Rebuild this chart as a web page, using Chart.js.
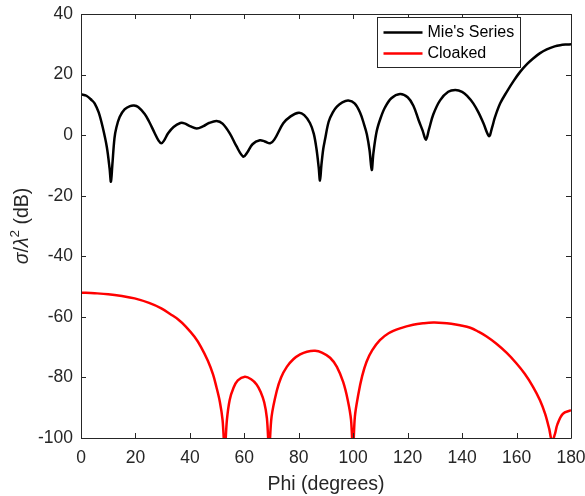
<!DOCTYPE html>
<html>
<head>
<meta charset="utf-8">
<script src="https://cdn.jsdelivr.net/npm/chart.js@4"></script>
<style>
  html, body { margin: 0; padding: 0; background: #fff; }
  #wrap { width: 585px; height: 496px; }
</style>
</head>
<body>
<div id="wrap"><canvas id="c" width="585" height="496"></canvas></div>
<script>
// ---- data ----
const seriesLabels = ["Mie's Series", "Cloaked"];

const phiMie = [0, 2, 4, 5, 6.5, 8, 9.5, 10.5, 11, 11.5, 12.3, 13, 14.2, 16, 18, 19.5, 21, 23.4, 25, 27,
  28.5, 29.5, 30.5, 32, 34, 36.5, 38, 40, 42.5, 45, 47, 49.8, 52, 54.7, 57, 59.6, 61, 63, 65.7, 67.5,
  69.5, 71, 74.3, 77, 80, 82, 84.1, 85.5, 86.5, 87.3, 87.8, 88.3, 89, 89.6, 91, 92.5, 94, 96, 98.2, 100.5,
  102.5, 104, 105, 106, 106.8, 107.4, 108.6, 110, 111.7, 114, 117.2, 120, 122.1, 124, 125.5, 126.7, 127.8,
  129.4, 131.9, 134.9, 137.5, 140, 142, 144.1, 146, 147.8, 149.9, 151, 152.1, 154, 156.4, 159, 161.3,
  164, 166.2, 168.5, 171.1, 174, 176, 178, 180];
const mieSeries = [13.5, 13.0, 11.5, 10.5, 7.5, 2.5, -4, -11, -15.4, -10, -1, 2.5, 6, 8.5, 9.6, 9.8, 9.3, 7, 4.5, 0.8,
  -1.8, -2.7, -1.8, 0.6, 2.7, 4.0, 3.9, 3.0, 2.2, 3.0, 4.0, 4.7, 3.8, 0.5, -3.5, -7.1, -5.8, -3.0, -1.7, -2.1,
  -2.7, -1.5, 3.9, 6.2, 7.4, 6.6, 4.0, 0.5, -4.5, -10.5, -15, -10, -4.5, -1.6, 4.5, 7.5, 9.4, 10.8, 11.4, 10.5,
  7.5, 3.5, 0.3, -5, -11.5, -6, 1.2, 5.5, 9.2, 12.2, 13.6, 12.5, 9.7, 5, 1.5, -1.5, 1.8,
  6.8, 11.5, 14.3, 14.9, 14.3, 12.8, 10.5, 7.5, 4, -0.3, 2.5, 6, 10.5, 14.3, 18, 20.9,
  23.6, 25.4, 27, 28.3, 29.3, 29.7, 29.9, 30];

const phiCloaked = [0, 5, 10, 15, 19.7, 25, 29.5, 33, 35.6, 38.5, 41.7, 44, 46.6, 48.5, 49.7, 51, 52, 52.8, 53.6,
  54.6, 56, 57.6, 60.2, 62.5, 64.5, 66, 67.3, 68.3, 69.1, 70, 71.9, 73.5, 75.6, 78, 80.5, 83, 86, 88.5, 91.5, 94,
  96.3, 98, 99.2, 99.9, 100.6, 101.9, 103.3, 104.9, 107, 109.8, 113, 117.2, 122, 126, 129.4, 133, 136, 139.2,
  143, 146, 149, 152.5, 156.4, 160, 163, 166, 168.6, 170.5, 172, 173, 174, 175, 177, 180];
const cloaked = [-52.0, -52.2, -52.5, -53.1, -53.9, -55.4, -57.2, -59.2, -60.8, -63.2, -66.6, -69.8, -74.5, -79, -83, -88, -94, -104, -94,
  -87.5, -83.5, -81, -79.8, -80.6, -82.3, -84.8, -88.2, -93.5, -104, -93, -84.5, -80, -76.5, -74, -72.4, -71.5, -71.2, -71.8, -73.5, -76.5,
  -81.5, -87.5, -94, -105, -93, -85.5, -79.5, -74.8, -71, -67.7, -65.4, -63.8, -62.6, -62.1, -61.9, -62.0, -62.3, -62.8,
  -63.6, -64.9, -66.5, -68.8, -71.9, -75.4, -78.8, -83, -87.5, -92, -97, -101, -99, -95.5, -92, -90.8];

const xRange = [0, 180], xStep = 20;
const yRange = [-100, 40], yStep = 20;

// ---- styles ----
const FONT = '"Liberation Sans", Arial, Helvetica, sans-serif';
const AX = '#262626';
const colors = ['#000000', '#ff0000'];

function pts(xs, ys) { return xs.map((x, i) => ({ x: x, y: ys[i] })); }

const framePlugin = {
  id: 'frame',
  afterDatasetsDraw(chart) {
    const { ctx, chartArea: a, scales } = chart;
    ctx.save();
    ctx.strokeStyle = AX;
    ctx.lineWidth = 1;
    ctx.beginPath();
    ctx.rect(Math.round(a.left) + 0.5, Math.round(a.top) + 0.5, Math.round(a.right - a.left), Math.round(a.bottom - a.top));
    ctx.stroke();
    const tl = 5;
    ctx.beginPath();
    scales.x.ticks.forEach(t => {
      const px = Math.round(scales.x.getPixelForValue(t.value)) + 0.5;
      ctx.moveTo(px, a.bottom); ctx.lineTo(px, a.bottom - tl);
      ctx.moveTo(px, a.top); ctx.lineTo(px, a.top + tl);
    });
    scales.y.ticks.forEach(t => {
      const py = Math.round(scales.y.getPixelForValue(t.value)) + 0.5;
      ctx.moveTo(a.left, py); ctx.lineTo(a.left + tl, py);
      ctx.moveTo(a.right, py); ctx.lineTo(a.right - tl, py);
    });
    ctx.stroke();

    // y axis title: sigma/lambda^2 (dB) with italic Greek letters
    const cy = (a.top + a.bottom) / 2;
    const parts = [
      { t: 'σ', f: 'italic 19.5px ' + FONT, dy: 0 },
      { t: '/', f: '19.5px ' + FONT, dy: 0 },
      { t: 'λ', f: 'italic 19.5px ' + FONT, dy: 0 },
      { t: '2', f: '13.5px ' + FONT, dy: -8 },
      { t: ' (dB)', f: '19.5px ' + FONT, dy: 0 }
    ];
    let total = 0;
    parts.forEach(p => { ctx.font = p.f; p.w = ctx.measureText(p.t).width; total += p.w; });
    ctx.translate(23, cy);
    ctx.rotate(-Math.PI / 2);
    ctx.fillStyle = AX;
    ctx.textBaseline = 'middle';
    ctx.textAlign = 'left';
    let x = -total / 2;
    parts.forEach(p => { ctx.font = p.f; ctx.fillText(p.t, x, p.dy); x += p.w; });
    ctx.restore();

    // legend box
    ctx.save();
    const bx = Math.round(a.right) - 193.5, by = Math.round(a.top) + 3.5, bw = 143, bh = 50;
    ctx.fillStyle = '#ffffff';
    ctx.fillRect(bx, by, bw, bh);
    ctx.strokeStyle = '#262626';
    ctx.lineWidth = 1;
    ctx.strokeRect(bx, by, bw, bh);
    ctx.font = '16px ' + FONT;
    ctx.textBaseline = 'middle';
    ctx.textAlign = 'left';
    chart.data.datasets.forEach((ds, i) => {
      const ly = by + 15 + i * 21;
      ctx.strokeStyle = ds.borderColor;
      ctx.lineWidth = 2.5;
      ctx.beginPath();
      ctx.moveTo(bx + 6, ly); ctx.lineTo(bx + 45, ly);
      ctx.stroke();
      ctx.fillStyle = '#000000';
      ctx.fillText(ds.label, bx + 50, ly + 0.5);
    });
    ctx.restore();
  }
};

new Chart(document.getElementById('c'), {
  type: 'line',
  data: {
    datasets: [
      { label: seriesLabels[0], data: pts(phiMie, mieSeries), borderColor: colors[0], borderWidth: 2.5,
        pointRadius: 0, tension: 0.35, clip: 0, fill: false },
      { label: seriesLabels[1], data: pts(phiCloaked, cloaked), borderColor: colors[1], borderWidth: 2.5,
        pointRadius: 0, tension: 0.35, clip: 0, fill: false }
    ]
  },
  options: {
    responsive: false,
    animation: false,
    events: [],
    layout: { padding: { left: 0, right: 14, top: 14, bottom: 0 } },
    plugins: { legend: { display: false }, tooltip: { enabled: false } },
    scales: {
      x: {
        type: 'linear', min: xRange[0], max: xRange[1],
        ticks: { stepSize: xStep, color: AX, font: { family: FONT, size: 17.5 }, padding: 10, maxRotation: 0, autoSkip: false },
        grid: { display: false, drawTicks: false },
        border: { display: false },
        title: { display: true, text: 'Phi (degrees)', color: AX, font: { family: FONT, size: 19.5 }, padding: { top: 0, bottom: 0 } },
        afterFit(s) { s.height = 58; s.paddingLeft = 0; s.paddingRight = 0; }
      },
      y: {
        type: 'linear', min: yRange[0], max: yRange[1],
        ticks: { stepSize: yStep, color: AX, font: { family: FONT, size: 17.5 }, padding: 8, autoSkip: false },
        grid: { display: false, drawTicks: false },
        border: { display: false },
        afterFit(s) { s.width = 81; s.paddingTop = 0; s.paddingBottom = 0; }
      }
    }
  },
  plugins: [framePlugin]
});
</script>
</body>
</html>
